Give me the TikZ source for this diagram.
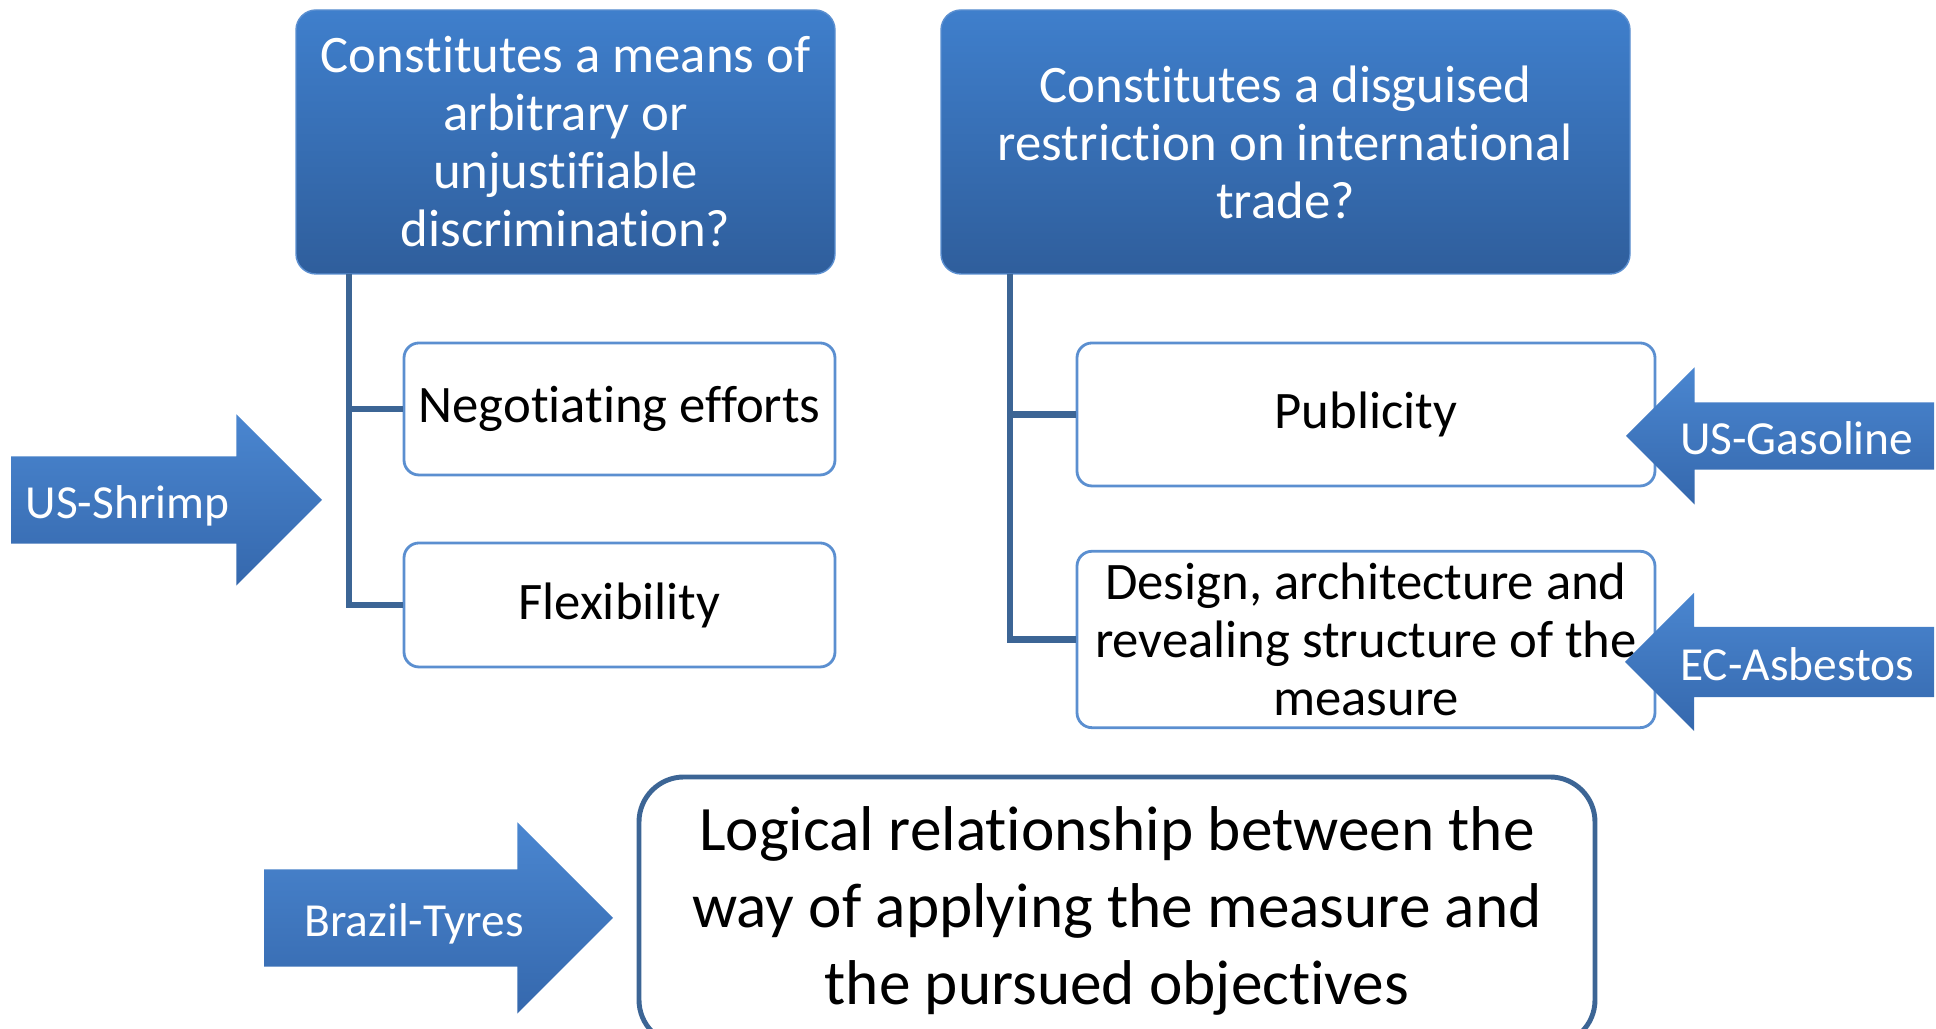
\documentclass[tikz,border=0pt]{standalone}
\usepackage{fontspec}
\setmainfont{Carlito}[Ligatures=CommonOff]
\usetikzlibrary{shapes.arrows}
\definecolor{boxtop}{HTML}{3F7FCC}
\definecolor{boxbot}{HTML}{2F5E9C}
\definecolor{arrowtop}{HTML}{4A86D0}
\definecolor{arrowbot}{HTML}{3568AD}
\definecolor{linkblue}{HTML}{3C6595}
\definecolor{rimblue}{HTML}{5B8FD0}
\begin{document}
\begin{tikzpicture}
    [
    question/.style={rounded corners=0.2cm,top color=boxtop,bottom color=boxbot,draw=rimblue,thin,text=white,align=center,font=\fontsize{15}{16.5}\selectfont},
    item/.style={rounded corners=0.15cm,fill=white,draw=rimblue,line width=0.8pt,align=center,font=\fontsize{15}{16.5}\selectfont},
    case/.style={single arrow,single arrow head indent=0pt,top color=arrowtop,bottom color=arrowbot,text=white,font=\fontsize{13.5}{16}\selectfont,text height=0.38cm,text depth=0cm},
    link/.style={line width=1.8pt,draw=linkblue}
    ]
    \useasboundingbox (0,0) rectangle (19.36,10.29);
    \node (Q1) at (5.655,8.87) [question,minimum width=5.39cm,minimum height=2.64cm] {Constitutes a means of\\arbitrary or\\unjustifiable\\discrimination?};
    \node (Q2) at (12.855,8.87) [question,minimum width=6.89cm,minimum height=2.64cm] {Constitutes a disguised\\restriction on international\\trade?};
    \node (C1) at (6.195,6.20) [item,minimum width=4.31cm,minimum height=1.32cm] {Negotiating efforts};
    \node (C2) at (6.195,4.24) [item,minimum width=4.31cm,minimum height=1.24cm] {Flexibility};
    \node (C3) at (13.66,6.145) [item,minimum width=5.78cm,minimum height=1.43cm] {Publicity};
    \node (C4) at (13.66,3.895) [item,minimum width=5.78cm,minimum height=1.73cm] {Design, architecture and\\revealing structure of the\\measure};
    \node (L1) at (11.17,1.18) [rounded corners=0.45cm,draw=linkblue,line width=1.4pt,align=center,font=\fontsize{18}{21.8}\selectfont,minimum width=9.56cm,minimum height=2.68cm] {Logical relationship between the\\way of applying the measure and\\the pursued objectives};
    \node (S1) at (3.23,5.29) [case,anchor=tip,minimum height=3.11cm,inner ysep=0.24cm,single arrow head extend=0.42cm] {US-Shrimp\kern0.34cm};
    \node (S2) at (16.25,5.93) [case,anchor=tip,shape border rotate=180,minimum height=3.08cm,inner ysep=0.14cm,single arrow head extend=0.35cm] {US-Gasoline};
    \node (S3) at (16.24,3.67) [case,anchor=tip,shape border rotate=180,minimum height=3.09cm,inner ysep=0.155cm,single arrow head extend=0.34cm] {EC-Asbestos};
    \node (S4) at (6.14,1.11) [case,anchor=tip,minimum height=3.49cm,inner ysep=0.29cm,single arrow head extend=0.47cm] {Brazil-Tyres};
    \coordinate (T1) at (3.49,7.55);
    \coordinate (T2) at (10.10,7.55);
    \draw [link] (T1) |- (C1.west);
    \draw [link] (T1) |- (C2.west);
    \draw [link] (T2) |- (C3.west);
    \draw [link] (T2) |- (C4.west);
  \end{tikzpicture}
\end{document}
